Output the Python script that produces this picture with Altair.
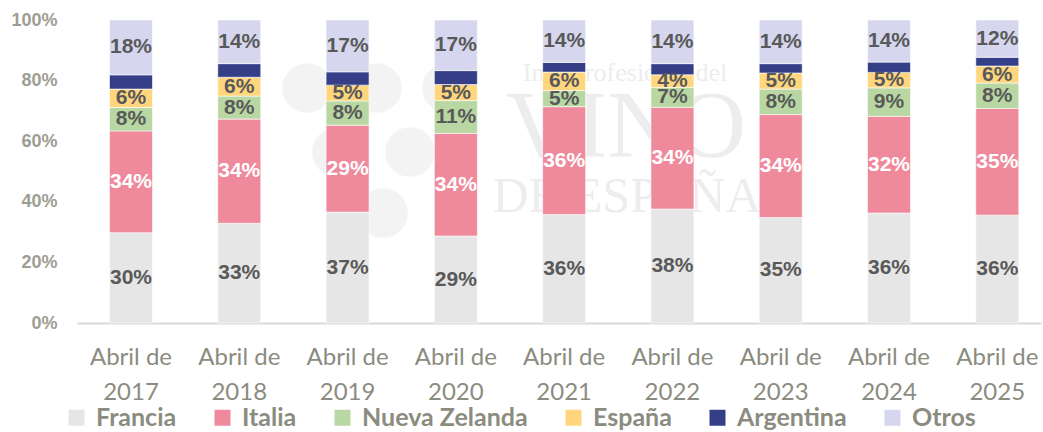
import altair as alt
import pandas as pd

categories = ["Abril de 2017", "Abril de 2018", "Abril de 2019", "Abril de 2020", "Abril de 2021",
              "Abril de 2022", "Abril de 2023", "Abril de 2024", "Abril de 2025"]
series = ["Francia", "Italia", "Nueva Zelanda", "España", "Argentina", "Otros"]

francia = [29.8, 32.9, 36.6, 28.7, 35.8, 37.6, 34.8, 36.3, 35.6]
italia = [33.6, 34.4, 28.7, 33.9, 35.6, 33.6, 34.0, 31.9, 35.2]
nueva_zelanda = [7.7, 7.6, 8.0, 10.8, 5.3, 6.5, 8.4, 9.4, 8.4]
espana = [6.1, 6.2, 5.2, 5.3, 6.1, 4.2, 5.3, 5.1, 5.6]
argentina = [4.7, 4.5, 4.4, 4.6, 3.2, 3.7, 3.1, 3.4, 2.9]
otros = [18.1, 14.4, 17.1, 16.7, 14.0, 14.4, 14.4, 13.9, 12.3]

colors = ["#e7e6e6", "#ee8a9b", "#b8d7a2", "#ffd67e", "#343f88", "#d6d7ef"]
label_colors = ["#595959", "#ffffff", "#595959", "#595959", "#343f88", "#595959"]

rows = []
for i, (name, vals) in enumerate(zip(series, [francia, italia, nueva_zelanda, espana, argentina, otros])):
    for c, v in zip(categories, vals):
        rows.append({"cat": c, "serie": name, "order": i, "value": v, "show": name != "Argentina"})
df = pd.DataFrame(rows)

# faint watermark (logo of the source)
wm_text = pd.DataFrame({
    "t": ["Interprofesional del", "VINO", "DE ESPAÑA"],
    "px": [548, 549, 550],
    "py": [53, 108, 177],
    "fs": [26, 96, 50],
})
wm_circ = pd.DataFrame({
    "px": [230, 300, 370, 260, 333, 306],
    "py": [68, 68, 68, 132, 132, 193],
})

axis_gray = "#8b8c80"

x_enc = alt.X(
    "cat:N", sort=categories, title=None,
    scale=alt.Scale(paddingInner=0.603, paddingOuter=0.2526, align=0.594),
    axis=alt.Axis(
        labelExpr="['Abril de', substring(datum.label, 9)]",
        labelFont="Lato", labelFontSize=24, labelColor=axis_gray,
        labelPadding=22, labelLineHeight=35, labelAngle=0,
        ticks=False, domainColor="#d9d9d9", domainWidth=2, grid=False,
    ),
)

base = alt.Chart(df).transform_stack(
    stack="value", groupby=["cat"], as_=["y0", "y1"],
    sort=[alt.SortField("order", order="ascending")],
).transform_calculate(
    mid="(datum.y0 + datum.y1) / 2",
    label="format(datum.value, '.0f') + '%'",
)

bars = base.mark_bar(stroke="white", strokeWidth=0.6).encode(
    x=x_enc,
    y=alt.Y(
        "y0:Q", title=None,
        scale=alt.Scale(domain=[0, 100], nice=False, zero=True),
        axis=alt.Axis(
            values=[0, 20, 40, 60, 80, 100], labelExpr="datum.value + '%'",
            labelFont="Liberation Sans", labelFontWeight="bold", labelFontSize=18,
            labelColor="#9d9e92", labelPadding=20, domain=False, ticks=False, grid=False,
        ),
    ),
    y2="y1:Q",
    color=alt.Color(
        "serie:N", sort=series,
        scale=alt.Scale(domain=series, range=colors),
        legend=alt.Legend(
            title=None, orient="none", legendX=-13, legendY=385, direction="horizontal",
            symbolType="square", symbolSize=256, symbolStrokeWidth=0, symbolOpacity=1,
            labelFont="Lato", labelFontWeight="bold", labelFontSize=25, labelColor=axis_gray,
            labelOffset=7, columnPadding=33, padding=0, labelLimit=400,
        ),
    ),
)

labels = base.transform_filter("datum.show").mark_text(
    font="Liberation Sans", fontWeight="bold", fontSize=21, baseline="middle", align="center",
).encode(
    x=alt.X("cat:N", sort=categories),
    y=alt.Y("mid:Q"),
    text="label:N",
    color=alt.Color("serie:N", scale=alt.Scale(domain=series, range=label_colors), legend=None),
)

main = alt.layer(bars, labels).resolve_scale(color="independent")

wm_c = alt.Chart(wm_circ).mark_circle(color="#f3f3f3", opacity=1, size=2460).encode(
    x=alt.X("px:Q", scale=None, axis=None),
    y=alt.Y("py:Q", scale=None, axis=None),
)
wm_t = alt.Chart(wm_text).mark_text(
    font="Liberation Serif", color="#ededed", baseline="middle", align="center",
).encode(
    x=alt.X("px:Q", scale=None, axis=None),
    y=alt.Y("py:Q", scale=None, axis=None),
    text="t:N",
    size=alt.Size("fs:Q", scale=None, legend=None),
)

chart = alt.layer(wm_c, wm_t, main).resolve_scale(
    color="independent", x="independent", y="independent", size="independent"
).properties(
    width=964, height=303,
    autosize=alt.AutoSizeParams(type="none"),
    padding={"left": 77, "top": 20, "right": 2, "bottom": 109},
    background="white",
).configure_view(stroke=None)

chart.save("out.html", embed_options={"renderer": "svg", "actions": False})
